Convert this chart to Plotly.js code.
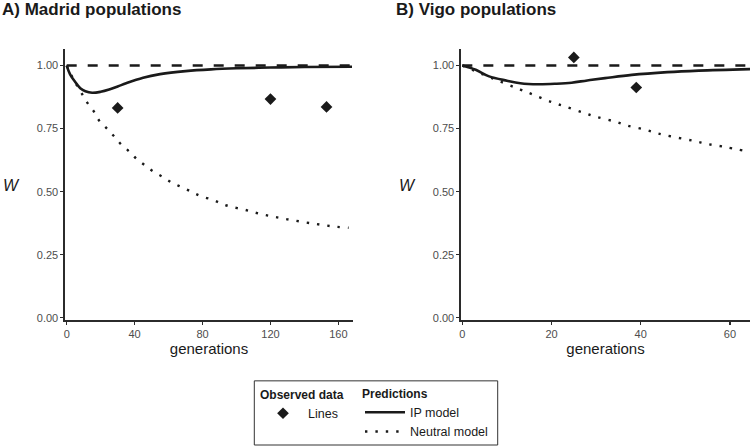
<!DOCTYPE html>
<html>
<head>
<meta charset="utf-8">
<script src="https://cdn.plot.ly/plotly-3.0.1.min.js"></script>
<style>html,body{margin:0;padding:0;background:#fff;}#chart{width:750px;height:447px;}</style>
</head>
<body>
<div id="chart"></div>
<script>
// ---- Madrid (panel A) ----
const madridRefX = [0, 168];
const madridRefY = [1, 1];
const madridIpX = [0, 2, 5, 8, 11, 15, 20, 25, 30, 35, 45, 55, 70, 85, 100, 120, 140, 168];
const madridIpY = [1.0, 0.965, 0.935, 0.91, 0.898, 0.892, 0.896, 0.905, 0.917, 0.93, 0.952, 0.966, 0.978, 0.985, 0.989, 0.992, 0.994, 0.995];
const madridNeutralX = [0, 4, 9, 12, 16, 19, 24, 28, 32, 37, 41, 46, 51, 57, 62, 68, 74, 79, 86, 91, 97, 104, 110, 116, 122, 128, 134, 141, 147, 153, 159, 166];
const madridNeutralY = [1.0, 0.945, 0.888, 0.854, 0.818, 0.783, 0.748, 0.719, 0.688, 0.658, 0.631, 0.605, 0.58, 0.557, 0.536, 0.517, 0.498, 0.482, 0.468, 0.453, 0.44, 0.43, 0.419, 0.409, 0.401, 0.393, 0.386, 0.378, 0.372, 0.366, 0.361, 0.357];
const madridObsX = [30, 120, 153];
const madridObsY = [0.832, 0.867, 0.836];

// ---- Vigo (panel B) ----
const vigoRefX = [0, 64.5];
const vigoRefY = [1, 1];
const vigoIpX = [0, 3, 6, 10, 13, 17, 21, 24.5, 28, 32, 38, 46, 53, 64.5];
const vigoIpY = [1.0, 0.983, 0.957, 0.94, 0.93, 0.926, 0.928, 0.932, 0.941, 0.95, 0.963, 0.974, 0.98, 0.986];
const vigoNeutralX = [0, 5, 9, 13, 16, 20, 23, 27, 30, 34, 37, 41, 44, 48, 52, 55, 59, 63];
const vigoNeutralY = [1.0, 0.962, 0.933, 0.905, 0.884, 0.855, 0.838, 0.814, 0.797, 0.779, 0.762, 0.746, 0.73, 0.715, 0.701, 0.689, 0.677, 0.663];
const vigoObsX = [25, 39];
const vigoObsY = [1.032, 0.913];

// ---- Labels ----
const titleA = 'A) Madrid populations';
const titleB = 'B) Vigo populations';
const xTitle = 'generations';
const yTitle = 'W';
const obsName = 'Lines';
const ipName = 'IP model';
const neutralName = 'Neutral model';
const obsGroupTitle = 'Observed data';
const predGroupTitle = 'Predictions';
const yTicks = [0, 0.25, 0.5, 0.75, 1.0];

const INK = '#1a1a1a';
const FONT = 'Liberation Sans, Arial, sans-serif';

function refTrace(x, y, xa, ya) {
  return {x, y, xaxis: xa, yaxis: ya, mode: 'lines', showlegend: false, hoverinfo: 'skip',
    line: {color: INK, width: 2.6, dash: '10px,11px'}};
}
function ipTrace(x, y, xa, ya, show) {
  return {x, y, xaxis: xa, yaxis: ya, mode: 'lines', name: ipName, legend: 'legend2', showlegend: show,
    line: {color: INK, width: 2.6, shape: 'spline', smoothing: 1}};
}
function neutralTrace(x, y, xa, ya, show) {
  return {x, y, xaxis: xa, yaxis: ya, mode: 'lines', name: neutralName, legend: 'legend2', showlegend: show,
    line: {color: INK, width: 2.4, shape: 'spline', smoothing: 1, dash: '2.4px,8px'}};
}
function obsTrace(x, y, xa, ya, show) {
  return {x, y, xaxis: xa, yaxis: ya, mode: 'markers', name: obsName, legend: 'legend', showlegend: show,
    marker: {symbol: 'diamond', size: 9, color: INK}};
}

const data = [
  refTrace(madridRefX, madridRefY, 'x', 'y'),
  ipTrace(madridIpX, madridIpY, 'x', 'y', true),
  neutralTrace(madridNeutralX, madridNeutralY, 'x', 'y', true),
  obsTrace(madridObsX, madridObsY, 'x', 'y', true),
  refTrace(vigoRefX, vigoRefY, 'x2', 'y2'),
  ipTrace(vigoIpX, vigoIpY, 'x2', 'y2', false),
  neutralTrace(vigoNeutralX, vigoNeutralY, 'x2', 'y2', false),
  obsTrace(vigoObsX, vigoObsY, 'x2', 'y2', false)
];

const W = 750, H = 447;
const px = v => v / W;
const py = v => (H - v) / H;

function xAxis(domain, range, dtick, anchor) {
  return {domain, range, dtick, tick0: 0, anchor, showline: true, linecolor: '#2b2b2b', linewidth: 1.6,
    ticks: 'outside', ticklen: 3, tickwidth: 1.2, tickcolor: '#2b2b2b', showgrid: false, zeroline: false,
    tickfont: {size: 11, color: '#4d4d4d', family: FONT},
    title: {text: xTitle, standoff: 4, font: {size: 15, color: INK, family: FONT}}};
}
function yAxis(anchor) {
  return {domain: [py(321), py(49)], range: [-0.0095, 1.066], tickvals: yTicks, tickformat: '.2f', anchor,
    showline: true, linecolor: '#2b2b2b', linewidth: 1.6, ticks: 'outside', ticklen: 3, tickwidth: 1.2,
    tickcolor: '#2b2b2b', showgrid: false, zeroline: false,
    tickfont: {size: 11, color: '#4d4d4d', family: FONT}};
}

const layout = {
  width: W, height: H,
  margin: {l: 0, r: 0, t: 0, b: 0},
  paper_bgcolor: '#fff', plot_bgcolor: '#fff',
  font: {family: FONT, color: INK},
  xaxis: xAxis([px(65), px(353)], [-1, 168.6], 40, 'y'),
  yaxis: yAxis('x'),
  xaxis2: xAxis([px(461), 1], [-0.3, 64.5], 20, 'y2'),
  yaxis2: yAxis('x2'),
  legend: {x: px(258), y: py(383), xanchor: 'left', yanchor: 'top', bgcolor: 'rgba(0,0,0,0)', borderwidth: 0,
    itemwidth: 40,
    title: {text: '<b>' + obsGroupTitle + '</b>', font: {size: 12, color: INK}}, font: {size: 12.5, color: INK}},
  legend2: {x: px(360), y: py(383), xanchor: 'left', yanchor: 'top', bgcolor: 'rgba(0,0,0,0)', borderwidth: 0,
    itemwidth: 40, tracegroupgap: 0,
    title: {text: '<b>' + predGroupTitle + '</b>', font: {size: 12, color: INK}}, font: {size: 12.5, color: INK}},
  shapes: [{type: 'rect', xref: 'paper', yref: 'paper', x0: px(254.3), x1: px(497.7), y0: py(446), y1: py(381.7),
    line: {color: '#333', width: 1}}],
  annotations: [
    {text: '<b>' + titleA + '</b>', xref: 'paper', yref: 'paper', x: px(0), y: py(10), xanchor: 'left', yanchor: 'middle',
      showarrow: false, font: {size: 17, color: INK}},
    {text: '<b>' + titleB + '</b>', xref: 'paper', yref: 'paper', x: px(394), y: py(10), xanchor: 'left', yanchor: 'middle',
      showarrow: false, font: {size: 17, color: INK}},
    {text: '<i>' + yTitle + '</i>', xref: 'paper', yref: 'paper', x: px(11), y: py(186), xanchor: 'center', yanchor: 'middle',
      showarrow: false, font: {size: 16, color: INK}},
    {text: '<i>' + yTitle + '</i>', xref: 'paper', yref: 'paper', x: px(407), y: py(186), xanchor: 'center', yanchor: 'middle',
      showarrow: false, font: {size: 16, color: INK}}
  ]
};

Plotly.newPlot('chart', data, layout, {displayModeBar: false, staticPlot: true});
</script>
</body>
</html>
